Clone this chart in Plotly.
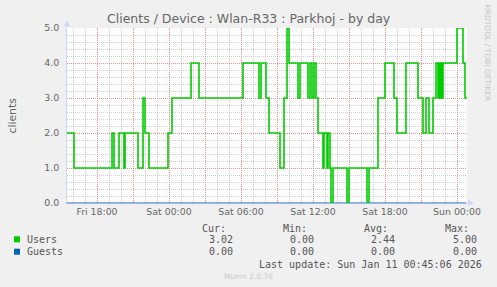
import plotly.graph_objects as go

# ---------------- data ----------------
user_times = [
    "2026-01-09 15:30", "2026-01-09 16:05", "2026-01-09 19:15", "2026-01-09 19:25",
    "2026-01-09 19:50", "2026-01-09 20:15", "2026-01-09 20:20", "2026-01-09 21:25",
    "2026-01-09 21:50", "2026-01-09 22:00", "2026-01-09 22:20", "2026-01-09 23:55",
    "2026-01-10 00:15", "2026-01-10 01:50", "2026-01-10 02:30", "2026-01-10 06:10",
    "2026-01-10 07:30", "2026-01-10 07:40", "2026-01-10 08:05", "2026-01-10 08:20",
    "2026-01-10 09:15", "2026-01-10 09:35", "2026-01-10 09:50", "2026-01-10 10:00",
    "2026-01-10 10:45", "2026-01-10 10:55", "2026-01-10 11:35", "2026-01-10 11:45",
    "2026-01-10 11:55", "2026-01-10 12:05", "2026-01-10 12:15", "2026-01-10 12:25",
    "2026-01-10 12:50", "2026-01-10 12:55", "2026-01-10 13:10", "2026-01-10 13:15",
    "2026-01-10 13:25", "2026-01-10 13:30", "2026-01-10 13:40", "2026-01-10 14:50",
    "2026-01-10 15:00", "2026-01-10 16:30", "2026-01-10 16:40", "2026-01-10 17:25",
    "2026-01-10 18:00", "2026-01-10 18:45", "2026-01-10 19:00", "2026-01-10 19:45",
    "2026-01-10 20:45", "2026-01-10 21:10", "2026-01-10 21:25", "2026-01-10 21:40",
    "2026-01-10 22:00", "2026-01-10 22:15", "2026-01-10 22:25", "2026-01-10 22:30",
    "2026-01-10 22:35", "2026-01-10 22:40", "2026-01-10 22:45", "2026-01-10 22:50",
    "2026-01-11 00:00", "2026-01-11 00:30", "2026-01-11 00:40", "2026-01-11 00:45",
]
user_values = [
    2, 1, 2, 1,
    2, 1, 2, 1,
    3, 2, 1, 2,
    3, 4, 3, 4,
    3, 4, 3, 2,
    1, 3, 5, 4,
    3, 4, 3, 4,
    3, 4, 3, 2,
    1, 2, 1, 2,
    1, 0, 1, 0,
    1, 0, 1, 3,
    4, 3, 2, 4,
    3, 2, 3, 2,
    3, 4, 3, 4,
    3, 4, 3, 4,
    5, 4, 3, 3.02,
]
guest_times = ["2026-01-09 15:30", "2026-01-11 00:45"]
guest_values = [0, 0]

series_names = ["Users", "Guests"]
series_colors = ["#00CC00", "#0066B3"]
stat_headers = ["Cur:", "Min:", "Avg:", "Max:"]
users_stats = ["3.02", "0.00", "2.44", "5.00"]
guests_stats = ["0.00", "0.00", "0.00", "0.00"]

x_tick_vals = [
    "2026-01-09 18:00", "2026-01-09 21:00", "2026-01-10 00:00", "2026-01-10 03:00",
    "2026-01-10 06:00", "2026-01-10 09:00", "2026-01-10 12:00", "2026-01-10 15:00",
    "2026-01-10 18:00", "2026-01-10 21:00", "2026-01-11 00:00",
]
x_tick_text = ["Fri 18:00", "", "Sat 00:00", "", "Sat 06:00", "", "Sat 12:00", "",
               "Sat 18:00", "", "Sun 00:00"]
y_tick_vals = [0, 1, 2, 3, 4, 5]
y_tick_text = ["0.0", "1.0", "2.0", "3.0", "4.0", "5.0"]

title_text = "Clients / Device : Wlan-R33 : Parkhoj - by day"
y_title = "clients"
last_update = "Last update: Sun Jan 11 00:45:06 2026"
munin_ver = "Munin 2.0.76"
rrd_credit = "RRDTOOL / TOBI OETIKER"

# ---------------- geometry ----------------
W, H = 497, 287
L, R, T, B = 67, 467, 28, 203

def px(x):
    return (x - L) / (R - L)

def py(y):
    return (B - y) / (B - T)

FONT = "DejaVu Sans"
MONO = "DejaVu Sans Mono"
FC = "#666666"
AXC = "#CFD6F8"

fig = go.Figure()
fig.add_trace(go.Scatter(x=guest_times, y=guest_values, mode="lines",
                         line=dict(color=series_colors[1], width=1),
                         name=series_names[1], showlegend=False, hoverinfo="skip"))
fig.add_trace(go.Scatter(x=user_times, y=user_values, mode="lines", line_shape="hv",
                         line=dict(color=series_colors[0], width=1.6),
                         name=series_names[0], showlegend=False))

red = "rgba(230,120,120,0.75)"
gray = "rgba(170,170,170,0.55)"

fig.update_xaxes(
    range=["2026-01-09 15:30", "2026-01-11 00:50"],
    tickmode="array", tickvals=x_tick_vals, ticktext=x_tick_text,
    showgrid=True, gridcolor=red, griddash="1px,1px", gridwidth=1,
    minor=dict(tickmode="linear", tick0="2026-01-09 00:00", dtick=3600000,
               showgrid=True, gridcolor=gray, griddash="1px,1px", gridwidth=1),
    showline=True, linecolor="#a3b3e6", linewidth=1,
    ticks="", tickfont=dict(family=FONT, size=9.4, color=FC),
    zeroline=False, layer="above traces", fixedrange=True,
)
fig.update_yaxes(
    range=[0, 5], tickmode="array", tickvals=y_tick_vals, ticktext=y_tick_text,
    showgrid=True, gridcolor=red, griddash="1px,1px", gridwidth=1,
    minor=dict(tickmode="linear", tick0=0, dtick=0.2,
               showgrid=True, gridcolor=gray, griddash="1px,1px", gridwidth=1),
    showline=True, linecolor=AXC, linewidth=1,
    ticks="", ticklabelstandoff=5, tickfont=dict(family=FONT, size=9.4, color=FC),
    zeroline=False, layer="above traces", fixedrange=True,
)

ann = []
# title
ann.append(dict(text=title_text, xref="paper", yref="paper", x=px(W / 2), y=py(18.5),
                xanchor="center", yanchor="middle", showarrow=False,
                font=dict(family=FONT, size=12.5, color=FC)))
# y title
ann.append(dict(text=y_title, xref="paper", yref="paper", x=px(11.5), y=py(115),
                xanchor="center", yanchor="middle", showarrow=False, textangle=-90,
                font=dict(family=FONT, size=10.8, color=FC)))
# rrdtool credit
ann.append(dict(text=rrd_credit, xref="paper", yref="paper", x=px(487.5), y=py(53),
                xanchor="center", yanchor="middle", showarrow=False, textangle=90,
                font=dict(family=FONT, size=7.5, color="#c4c4c4")))
# legend headers and stats
head_right = [227, 308, 389, 470]
val_right = [233.5, 314.5, 396, 477.5]
for hdr, xr in zip(stat_headers, head_right):
    ann.append(dict(text=hdr, xref="paper", yref="paper", x=px(xr + 1), y=py(228),
                    xanchor="right", yanchor="middle", showarrow=False,
                    font=dict(family=MONO, size=10, color="#555555")))
rows = [(series_names[0], users_stats, 239.3), (series_names[1], guests_stats, 251.7)]
for (name, stats, yy), col in zip(rows, series_colors):
    ann.append(dict(text=name, xref="paper", yref="paper", x=px(25), y=py(yy),
                    xanchor="left", yanchor="middle", showarrow=False,
                    font=dict(family=MONO, size=10, color="#555555")))
    for v, xr in zip(stats, val_right):
        ann.append(dict(text=v, xref="paper", yref="paper", x=px(xr + 1), y=py(yy),
                        xanchor="right", yanchor="middle", showarrow=False,
                        font=dict(family=MONO, size=10, color="#555555")))
ann.append(dict(text=last_update, xref="paper", yref="paper", x=px(484), y=py(264),
                xanchor="right", yanchor="middle", showarrow=False,
                font=dict(family=MONO, size=10, color="#555555")))
ann.append(dict(text=munin_ver, xref="paper", yref="paper", x=px(248), y=py(276.5),
                xanchor="center", yanchor="middle", showarrow=False,
                font=dict(family=FONT, size=7.5, color="#c8c8c8")))

shapes = []
# legend swatches
for col, yy in zip(series_colors, [239.3, 251.7]):
    shapes.append(dict(type="rect", xref="paper", yref="paper",
                       x0=px(14), x1=px(20), y0=py(yy - 3), y1=py(yy + 3),
                       fillcolor=col, line=dict(width=0)))
# axis arrows
shapes.append(dict(type="path", xref="paper", yref="paper",
                   path=f"M {px(63.8)} {py(26.5)} L {px(70.2)} {py(26.5)} L {px(67)} {py(20.5)} Z",
                   fillcolor=AXC, line=dict(width=0)))
shapes.append(dict(type="path", xref="paper", yref="paper",
                   path=f"M {px(468)} {py(199.8)} L {px(468)} {py(206.2)} L {px(474)} {py(203)} Z",
                   fillcolor=AXC, line=dict(width=0)))

fig.update_layout(
    width=W, height=H,
    margin=dict(l=L, r=W - R, t=T, b=H - B, pad=0),
    paper_bgcolor="#F0F0F0", plot_bgcolor="#FFFFFF",
    annotations=ann, shapes=shapes, showlegend=False,
    hovermode=False,
)

fig.write_html("out.html", config={"displayModeBar": False})
